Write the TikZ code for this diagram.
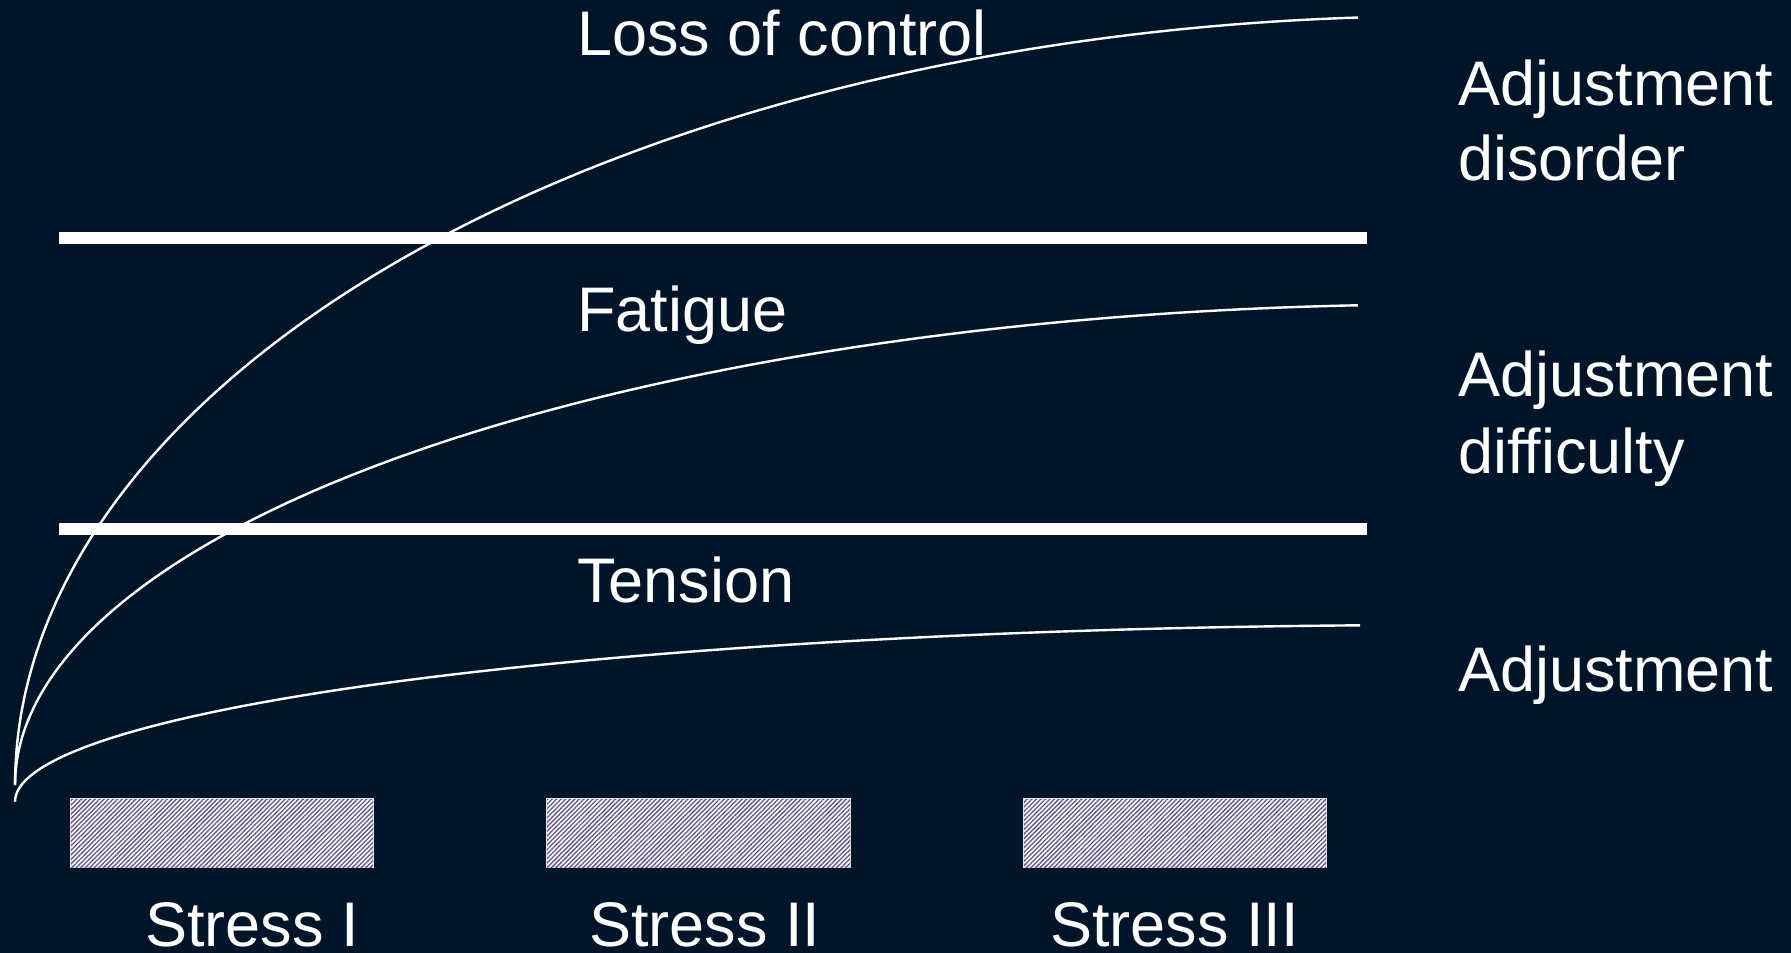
\documentclass[tikz,border=0pt]{standalone}
\usepackage{fontspec}
\setmainfont{Liberation Sans}
\usetikzlibrary{patterns.meta}
\definecolor{bgnavy}{RGB}{1,21,42}
\definecolor{hatch}{RGB}{92,82,150}
\begin{document}
\begin{tikzpicture}[x=1pt,y=-1pt,
  lbl/.style={anchor=base west,text=white,inner sep=0pt,font=\fontsize{63}{75}\selectfont},
  band/.style={draw=white,line width=12pt},
  curve/.style={draw=white,line width=2.4pt},
  stressbox/.style={draw=white!80!gray,line width=1.5pt,fill=white,postaction={pattern={Lines[angle=45,distance=3.2pt,line width=1.3pt]},pattern color=hatch}}]
\fill[bgnavy] (0,0) rectangle (1791,953);
\useasboundingbox (0,0) rectangle (1791,953);
% bands
\draw[band] (59,238.3) -- (1367,238.3);
\draw[band] (59,529.2) -- (1367,529.2);
% curves (elliptic arcs)
\draw[curve] plot[domain=180:266.56,samples=150] ({1443.7+1428.7*cos(\x)},{785+768.9*sin(\x)});
\draw[curve] plot[domain=180:266.56,samples=150] ({1443.7+1428.7*cos(\x)},{785+480.6*sin(\x)});
\draw[curve] plot[domain=180:266.56,samples=150] ({1445.9+1430.9*cos(\x)},{801.7+176.7*sin(\x)});
% texts
\node[lbl] (loss) at (577,55) {Loss of control};
\node[lbl] (fat) at (577,331) {Fatigue};
\node[lbl] (ten) at (577,602) {Tension};
\node[lbl] (ad1a) at (1458,105) {Adjustment};
\node[lbl] (ad1b) at (1458,180) {disorder};
\node[lbl] (ad2a) at (1458,396) {Adjustment};
\node[lbl] (ad2b) at (1458,473) {difficulty};
\node[lbl] (ad3) at (1458,691) {Adjustment};
% stress boxes
\draw[stressbox] (71,799) rectangle (373,867);
\draw[stressbox] (547,799) rectangle (850,867);
\draw[stressbox] (1024,799) rectangle (1326,867);
\node[lbl] (s1) at (145,946) {Stress I};
\node[lbl] (s2) at (589,946) {Stress II};
\node[lbl] (s3) at (1050,946) {Stress III};
\end{tikzpicture}
\end{document}
